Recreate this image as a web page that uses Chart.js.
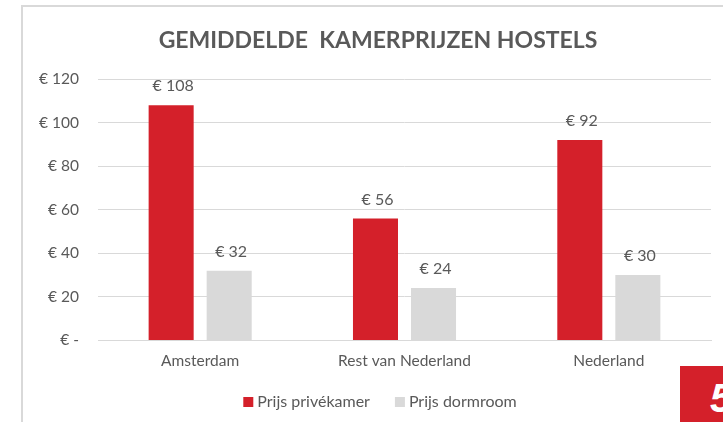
<!DOCTYPE html>
<html>
<head>
<meta charset="utf-8">
<script src="https://cdn.jsdelivr.net/npm/chart.js@4"></script>
<style>
  html, body { margin: 0; padding: 0; background: #fff; }
  #wrap { position: absolute; left: 0; top: 0; width: 723px; height: 422px; overflow: hidden; }
  #frame { position: absolute; left: 21px; top: 5px; width: 720px; height: 430px;
           border-left: 2px solid #d9d9d9; border-top: 2px solid #d9d9d9; }
  #cv { position: absolute; left: 0; top: 0; }
  #badge { position: absolute; left: 680px; top: 366px; width: 60px; height: 60px; background: #d4202a;
           color: #fff; font: italic bold 40px "Liberation Sans", sans-serif; overflow: hidden; }
  #badge span { position: absolute; left: 30px; top: 10px; }
</style>
</head>
<body>
<div id="wrap">
  <div id="frame"></div>
  <canvas id="cv" width="723" height="422"></canvas>
  <div id="badge"><span>5</span></div>
</div>
<script>
const categories = ["Amsterdam", "Rest van Nederland", "Nederland"];
const seriesNames = ["Prijs privékamer", "Prijs dormroom"];
const privekamer = [108, 56, 92];
const dormroom = [32, 24, 30];
const yTicks = [0, 20, 40, 60, 80, 100, 120];
const chartTitle = "GEMIDDELDE  KAMERPRIJZEN HOSTELS";

const FONT = "Lato, 'Open Sans', sans-serif";
const TXT = "#595959";

const decorations = {
  id: "decorations",
  afterDatasetsDraw(chart) {
    const ctx = chart.ctx;
    ctx.save();
    ctx.fillStyle = TXT;
    ctx.textBaseline = "middle";
    // value labels
    ctx.font = "16px " + FONT;
    ctx.textAlign = "center";
    chart.data.datasets.forEach((ds, i) => {
      chart.getDatasetMeta(i).data.forEach((bar, j) => {
        ctx.fillText("€ " + ds.data[j], bar.x + 2, bar.y - 19);
      });
    });
    // title
    ctx.font = "bold 23px " + FONT;
    ctx.fillText(chartTitle, 378, 41);
    // legend
    ctx.font = "16px " + FONT;
    ctx.textAlign = "left";
    const box = 10, gapText = 4, gapItem = 25;
    const items = chart.data.datasets.map(ds => ({ label: ds.label, color: ds.backgroundColor, w: ctx.measureText(ds.label).width }));
    let total = items.reduce((s, it) => s + box + gapText + it.w, 0) + gapItem * (items.length - 1);
    let x = 380 - total / 2;
    const cy = 402;
    items.forEach(it => {
      ctx.fillStyle = it.color;
      ctx.fillRect(x, cy - box / 2, box, box);
      ctx.fillStyle = TXT;
      ctx.fillText(it.label, x + box + gapText, cy);
      x += box + gapText + it.w + gapItem;
    });
    ctx.restore();
  }
};

new Chart(document.getElementById("cv"), {
  type: "bar",
  data: {
    labels: categories,
    datasets: [
      { label: seriesNames[0], data: privekamer, backgroundColor: "#d4202a" },
      { label: seriesNames[1], data: dormroom, backgroundColor: "#d9d9d9" }
    ]
  },
  options: {
    responsive: false,
    animation: false,
    events: [],
    layout: { padding: { left: 0, right: 12, top: 79, bottom: 41 } },
    datasets: { bar: { categoryPercentage: 0.568, barPercentage: 0.776 } },
    plugins: {
      title: { display: false },
      legend: { display: false },
      tooltip: { enabled: false }
    },
    scales: {
      x: {
        grid: { display: false, drawTicks: false },
        border: { display: true, color: "#d9d9d9", width: 1 },
        ticks: { color: TXT, font: { family: FONT, size: 15.5 }, padding: 11 }
      },
      y: {
        min: 0,
        max: 120,
        afterBuildTicks(scale) { scale.ticks = yTicks.map(v => ({ value: v })); },
        afterFit(scale) { scale.width = 98; },
        grid: { color: "#d9d9d9", drawTicks: false },
        border: { display: false },
        ticks: {
          color: TXT,
          font: { family: FONT, size: 15.5 },
          padding: 19,
          callback: v => v === 0 ? "€ -" : "€ " + v
        }
      }
    }
  },
  plugins: [decorations]
});
</script>
</body>
</html>
